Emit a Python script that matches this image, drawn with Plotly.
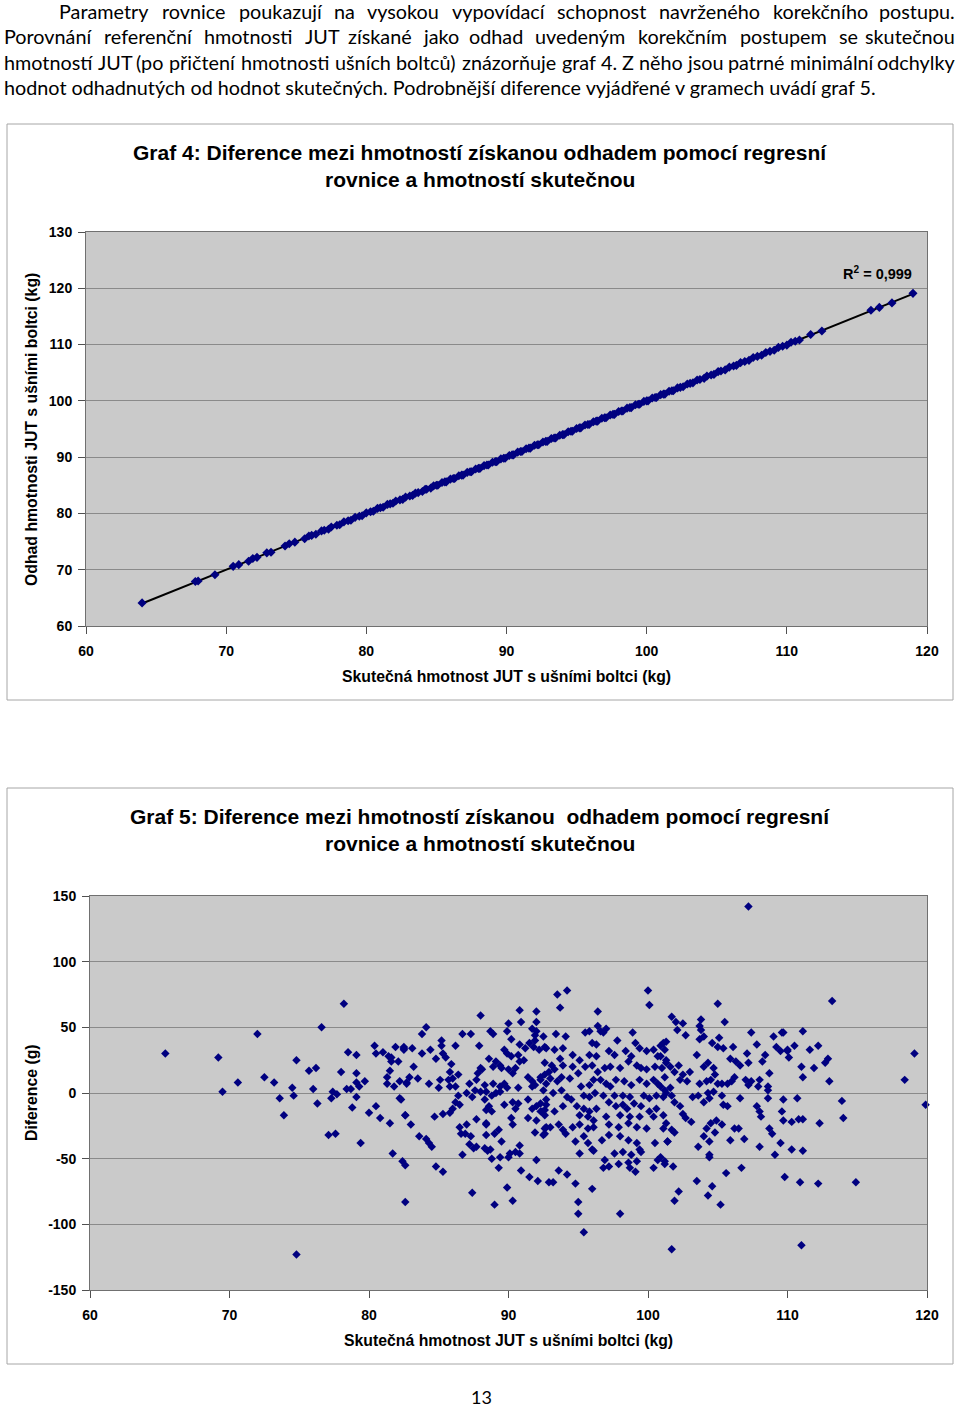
import plotly.graph_objects as go
import numpy as np

# ---------------- DATA ----------------
# Graf 4: (skutečná hmotnost kg, odhad kg)
graf4_points = [
    (64.0, 64.1), (67.8, 67.9), (68.0, 68.0), (69.2, 69.1), (70.5, 70.6), (70.9, 70.9),
    (71.6, 71.5), (71.9, 72.0), (72.2, 72.2), (72.9, 73.0), (73.2, 73.1), (74.2, 74.2),
    (74.5, 74.6), (74.9, 74.9), (75.6, 75.5), (75.9, 76.0), (76.1, 76.1), (76.4, 76.3),
    (76.8, 76.9), (77.0, 77.0), (77.3, 77.2), (77.5, 77.6), (77.9, 77.9), (78.1, 78.0),
    (78.4, 78.5), (78.7, 78.7), (78.9, 78.8), (79.2, 79.3), (79.5, 79.5), (79.7, 79.6),
    (80.0, 80.1), (80.3, 80.3), (80.5, 80.4), (80.8, 80.9), (81.0, 81.0), (81.2, 81.1),
    (81.5, 81.6), (81.7, 81.7), (81.9, 81.8), (82.1, 82.2), (82.4, 82.4), (82.6, 82.5),
    (82.8, 82.9), (83.1, 83.1), (83.3, 83.2), (83.5, 83.6), (83.7, 83.7), (84.0, 83.9),
    (84.2, 84.3), (84.3, 84.3), (84.6, 84.5), (84.8, 84.9), (85.0, 85.0), (85.1, 85.0),
    (85.4, 85.5), (85.6, 85.6), (85.7, 85.6), (86.0, 86.1), (86.2, 86.2), (86.3, 86.2),
    (86.6, 86.7), (86.8, 86.8), (86.9, 86.8), (87.2, 87.3), (87.4, 87.4), (87.5, 87.4),
    (87.8, 87.9), (88.0, 88.0), (88.1, 88.0), (88.4, 88.5), (88.6, 88.6), (88.7, 88.6),
    (89.0, 89.1), (89.2, 89.2), (89.3, 89.2), (89.6, 89.7), (89.8, 89.8), (89.9, 89.8),
    (90.2, 90.3), (90.4, 90.4), (90.5, 90.4), (90.8, 90.9), (91.0, 91.0), (91.1, 91.0),
    (91.4, 91.5), (91.6, 91.6), (91.7, 91.6), (92.0, 92.1), (92.2, 92.2), (92.3, 92.2),
    (92.6, 92.7), (92.8, 92.8), (92.9, 92.8), (93.2, 93.3), (93.4, 93.4), (93.5, 93.4),
    (93.8, 93.9), (94.0, 94.0), (94.1, 94.0), (94.4, 94.5), (94.6, 94.6), (94.7, 94.6),
    (95.0, 95.1), (95.2, 95.2), (95.3, 95.2), (95.6, 95.7), (95.8, 95.8), (95.9, 95.8),
    (96.2, 96.3), (96.4, 96.4), (96.5, 96.4), (96.8, 96.9), (97.0, 97.0), (97.1, 97.0),
    (97.4, 97.5), (97.6, 97.6), (97.7, 97.6), (98.0, 98.1), (98.2, 98.2), (98.3, 98.2),
    (98.6, 98.7), (98.8, 98.8), (98.9, 98.8), (99.2, 99.3), (99.4, 99.4), (99.5, 99.4),
    (99.8, 99.9), (100.0, 100.0), (100.1, 100.0), (100.4, 100.5), (100.6, 100.6),
    (100.7, 100.6), (101.0, 101.1), (101.2, 101.2), (101.3, 101.2), (101.6, 101.7),
    (101.8, 101.8), (101.9, 101.8), (102.2, 102.3), (102.4, 102.4), (102.6, 102.5),
    (102.9, 103.0), (103.1, 103.1), (103.3, 103.2), (103.6, 103.7), (103.8, 103.8),
    (104.1, 104.0), (104.3, 104.4), (104.6, 104.6), (104.8, 104.7), (105.1, 105.2),
    (105.3, 105.3), (105.6, 105.5), (105.9, 106.0), (106.2, 106.2), (106.4, 106.3),
    (106.7, 106.8), (107.0, 107.0), (107.3, 107.2), (107.6, 107.7), (107.9, 107.9),
    (108.2, 108.1), (108.5, 108.6), (108.8, 108.8), (109.1, 109.0), (109.4, 109.5),
    (109.7, 109.7), (110.0, 109.9), (110.3, 110.4), (110.6, 110.6), (110.9, 110.8),
    (111.7, 111.8), (112.5, 112.4), (116.0, 116.1), (116.6, 116.6), (117.5, 117.4),
    (119.0, 119.1),
]
r2_text = "R<sup>2</sup> = 0,999"

# Graf 5: (skutečná hmotnost kg, diference g)
graf5_points = [
    # left, sparse part
    (78.2, 68), (76.6, 50), (72.0, 45), (65.4, 30), (69.2, 27), (74.8, 25), (75.7, 17),
    (76.2, 19), (78.0, 16), (78.5, 31), (79.1, 29), (80.4, 36), (80.5, 30), (81.0, 31),
    (81.4, 28), (81.6, 27), (81.9, 35), (82.5, 35), (82.5, 33), (82.1, 24), (81.6, 24),
    (81.5, 17), (81.3, 12), (81.3, 7), (81.8, 5), (82.2, 9), (82.7, 8), (79.1, 15),
    (79.1, 8), (79.3, 5), (79.7, 9), (70.6, 8), (69.5, 1), (72.5, 12), (73.2, 8),
    (74.5, 4), (73.6, -4), (74.6, -2), (73.9, -17), (76.0, 3), (76.3, -8), (77.4, 1),
    (77.7, -1), (77.3, -4), (78.4, 3), (78.7, 3), (79.1, -3), (78.8, -11), (80.0, -15),
    (80.5, -10), (80.8, -19), (81.5, -23), (82.3, -5), (82.6, -17), (77.1, -32),
    (77.6, -31), (79.4, -38), (81.7, -46), (82.4, -52), (82.6, -55), (82.6, -83),
    (74.8, -123),
    # 82 - 93 kg
    (88.0, 59), (90.8, 63), (92.0, 62), (84.1, 50), (83.8, 45), (86.7, 45), (87.3, 45),
    (88.7, 47), (88.9, 45), (90.0, 53), (89.9, 47), (90.9, 54), (92.0, 54), (91.7, 49),
    (91.9, 44), (92.0, 47), (90.2, 41), (85.2, 40), (85.2, 36), (86.2, 36), (87.9, 36),
    (82.5, 34), (83.1, 34), (83.8, 30), (84.4, 33), (85.3, 30), (85.5, 27), (84.8, 26),
    (85.9, 22), (83.2, 20), (88.6, 26), (89.7, 33), (89.9, 30), (90.2, 28), (90.8, 37),
    (91.2, 34), (91.5, 38), (91.9, 40), (91.8, 35), (92.2, 33), (92.6, 35), (90.7, 29),
    (90.8, 24), (91.1, 25), (89.1, 24), (88.9, 20), (89.4, 21), (89.5, 19), (88.0, 19),
    (87.8, 15), (88.1, 18), (90.0, 18), (90.5, 19), (90.3, 15), (85.8, 16), (86.4, 14),
    (82.9, 12), (83.5, 11), (82.7, 7), (84.3, 7), (85.1, 10), (85.0, 4), (85.7, 10),
    (86.0, 11), (85.8, 5), (86.2, 5), (87.2, 7), (87.7, 10), (88.3, 6), (88.9, 7),
    (89.4, 5), (89.7, 7), (89.9, 4), (89.4, 1), (90.7, 4), (91.4, 12), (91.7, 9),
    (91.9, 6), (91.7, 5), (92.3, 10), (92.6, 14), (92.7, 7), (82.2, -4), (86.4, -2),
    (87.0, 0), (87.4, -3), (87.6, 2), (88.0, 1), (88.4, 1), (88.8, -2), (89.1, 0),
    (86.2, -7), (86.5, -9), (86.0, -12), (88.3, -5), (88.6, -10), (88.4, -13),
    (88.8, -14), (89.7, -9), (90.3, -7), (90.7, -8), (90.5, -12), (91.4, -5),
    (91.7, -12), (92.0, -10), (92.3, -14), (92.6, -13), (92.7, -5), (82.6, -17),
    (83.0, -24), (84.7, -18), (85.3, -16), (85.8, -15), (87.7, -20), (88.4, -23),
    (90.2, -19), (90.3, -24), (91.4, -19), (92.0, -21), (91.9, -30), (92.6, -31),
    (92.7, -26), (86.5, -26), (87.0, -24), (86.6, -31), (87.3, -33), (86.9, -31),
    (88.4, -24), (88.4, -32), (89.0, -31), (89.3, -28), (89.5, -37), (83.6, -33),
    (84.1, -35), (84.3, -38), (84.5, -41), (87.2, -39), (87.5, -42), (87.7, -41),
    (88.3, -42), (88.5, -44), (88.7, -43), (90.8, -40), (90.1, -46), (90.5, -45),
    (90.8, -46), (86.7, -47), (88.8, -50), (89.4, -49), (90.0, -49), (92.0, -51),
    (84.8, -56), (85.3, -60), (89.3, -57), (90.9, -59), (91.5, -64), (92.1, -67),
    (92.9, -68), (87.4, -76), (89.9, -72), (90.3, -82), (89.0, -85),
    # 92 - 101 kg
    (93.5, 75), (94.2, 78), (93.7, 65), (96.4, 62), (100.0, 78), (100.1, 67), (95.5, 46),
    (95.8, 47), (96.4, 51), (96.6, 47), (97.0, 49), (96.8, 46), (98.9, 46), (92.5, 43),
    (93.4, 45), (94.1, 43), (96.0, 38), (96.3, 37), (97.8, 40), (99.1, 38), (100.9, 36),
    (101.3, 39), (92.7, 34), (93.3, 33), (93.9, 34), (94.6, 29), (95.1, 25), (95.8, 29),
    (96.3, 28), (97.2, 32), (97.6, 29), (98.4, 32), (98.8, 28), (99.4, 34), (99.9, 32),
    (100.4, 33), (100.7, 28), (92.6, 23), (93.1, 21), (93.7, 26), (93.9, 21), (92.9, 16),
    (93.3, 18), (94.6, 20), (95.0, 15), (95.5, 20), (96.0, 21), (96.4, 16), (96.9, 19),
    (97.3, 20), (98.0, 19), (98.6, 24), (99.2, 21), (99.5, 19), (99.9, 18), (100.5, 20),
    (101.0, 19), (101.3, 23), (92.3, 12), (93.0, 11), (93.5, 9), (93.8, 12), (94.4, 11),
    (95.2, 5), (95.8, 6), (96.1, 10), (96.6, 10), (97.0, 7), (97.3, 5), (97.7, 10),
    (98.3, 9), (98.8, 6), (99.4, 10), (99.9, 7), (100.4, 10), (100.7, 7), (101.2, 12),
    (92.5, 2), (93.2, 0), (93.8, 2), (94.2, -3), (94.5, -5), (95.4, -2), (95.8, -3),
    (96.2, 0), (96.8, -2), (97.6, -2), (98.2, -2), (98.7, -3), (99.7, -2), (100.1, -4),
    (100.6, -2), (101.3, 0), (92.3, -8), (92.7, -9), (92.4, -14), (92.6, -17), (93.3, -14),
    (93.9, -10), (94.9, -10), (95.4, -12), (95.8, -14), (96.3, -12), (97.2, -7),
    (97.7, -10), (98.2, -9), (98.5, -12), (99.0, -8), (99.5, -10), (100.1, -14),
    (100.6, -12), (95.1, -17), (95.7, -18), (96.1, -21), (97.0, -18), (98.0, -17),
    (98.7, -18), (99.4, -18), (100.4, -18), (101.1, -17), (92.6, -27), (93.0, -26),
    (93.6, -24), (93.9, -28), (94.6, -26), (95.1, -24), (95.7, -27), (96.1, -26),
    (92.5, -32), (94.1, -31), (97.2, -24), (97.9, -26), (98.6, -23), (99.2, -26),
    (99.9, -27), (101.1, -27), (94.8, -37), (95.4, -33), (95.7, -38), (96.0, -43),
    (96.7, -36), (97.2, -32), (98.0, -33), (98.6, -36), (99.2, -38), (99.4, -43),
    (100.5, -38), (101.4, -37), (95.1, -46), (96.1, -44), (97.6, -46), (98.2, -45),
    (98.8, -47), (99.5, -45), (96.9, -51), (96.8, -57), (97.2, -56), (97.9, -54),
    (98.6, -53), (98.7, -57), (99.1, -60), (99.2, -52), (100.4, -57), (100.7, -51),
    (101.2, -54), (93.6, -59), (94.2, -62), (93.2, -68), (94.8, -69), (96.0, -73),
    (95.0, -83), (95.0, -92), (98.0, -92), (95.4, -106),
    # 100 - 110 kg
    (107.2, 142), (105.0, 68), (101.7, 58), (102.0, 54), (102.5, 53), (102.7, 44),
    (102.1, 48), (103.8, 56), (103.7, 51), (103.8, 48), (105.5, 54), (107.4, 46),
    (109.0, 43), (109.6, 46), (110.0, 33), (109.2, 35), (103.7, 41), (104.0, 43),
    (104.6, 38), (105.1, 42), (105.0, 35), (105.4, 34), (106.1, 35), (105.9, 26),
    (106.3, 24), (106.6, 21), (107.2, 23), (107.1, 30), (107.8, 37), (108.4, 29),
    (108.2, 24), (108.7, 15), (101.1, 38), (101.2, 33), (100.9, 28), (101.3, 25),
    (101.6, 20), (101.9, 16), (102.2, 21), (102.5, 14), (103.0, 16), (102.8, 9),
    (102.3, 10), (103.5, 29), (104.0, 20), (104.3, 23), (104.7, 19), (104.8, 14),
    (103.7, 7), (104.2, 9), (104.5, 10), (105.0, 7), (105.3, 7), (105.7, 7), (106.0, 9),
    (106.2, 12), (107.0, 10), (107.4, 9), (107.2, 6), (108.0, 10), (107.9, 5), (108.6, 5),
    (100.9, 5), (101.2, 2), (101.6, 4), (101.1, -3), (101.7, -2), (101.9, -7),
    (102.3, -10), (102.5, -16), (102.7, -19), (103.2, -3), (103.6, -2), (104.0, -7),
    (104.3, 0), (104.4, -4), (104.7, 1), (105.3, -2), (105.4, -9), (105.7, -10),
    (106.6, -4), (107.8, -10), (108.0, -14), (108.1, -18), (108.6, 2), (108.6, -4),
    (109.7, -5), (109.6, -14), (109.7, -21), (110.3, -22), (101.3, -23), (101.9, -30),
    (101.7, -28), (101.4, -37), (103.1, -22), (104.2, -27), (104.5, -23), (104.9, -21),
    (105.3, -24), (104.8, -30), (104.0, -33), (104.4, -37), (103.6, -41), (104.4, -47),
    (106.2, -27), (106.5, -27), (105.9, -36), (106.9, -35), (108.0, -41), (108.7, -27),
    (108.9, -31), (109.5, -38), (109.1, -47), (100.9, -49), (101.2, -52), (101.8, -56),
    (104.4, -49), (105.6, -61), (106.7, -57), (103.5, -67), (104.6, -71), (104.3, -78),
    (105.2, -85), (102.2, -75), (101.9, -82), (109.8, -64), (101.7, -119),
    # right, sparse part
    (113.2, 70), (109.7, 46), (111.1, 47), (109.5, 32), (110.0, 32), (110.5, 36),
    (110.1, 27), (111.6, 33), (112.2, 36), (111.0, 20), (111.9, 19), (111.1, 12),
    (112.7, 23), (112.9, 26), (113.0, 9), (119.1, 30), (118.4, 10), (119.9, -9),
    (110.7, -4), (113.9, -6), (110.8, -20), (111.1, -20), (112.3, -23), (114.0, -19),
    (110.3, -43), (111.1, -44), (110.9, -68), (112.2, -69), (114.9, -68), (111.0, -116),
]

x_ticks = [60, 70, 80, 90, 100, 110, 120]
y4_ticks = [60, 70, 80, 90, 100, 110, 120, 130]
y5_ticks = [-150, -100, -50, 0, 50, 100, 150]
y5_ticktext = ["-150", "-100", "-50", "0", "50", "100", "150"]

title4 = ["Graf 4: Diference mezi hmotností získanou odhadem pomocí regresní",
          "rovnice a hmotností skutečnou"]
title5 = ["Graf 5: Diference mezi hmotností získanou  odhadem pomocí regresní",
          "rovnice a hmotností skutečnou"]
xtitle = "Skutečná hmotnost JUT s ušními boltci (kg)"
ytitle4 = "Odhad hmotnosti JUT s ušními boltci (kg)"
ytitle5 = "Diference (g)"

paragraph_lines = [
    "Parametry rovnice poukazují na vysokou vypovídací schopnost navrženého korekčního postupu.",
    "Porovnání referenční hmotnosti JUT získané jako odhad uvedeným korekčním postupem se skutečnou",
    "hmotností JUT (po přičtení hmotnosti ušních boltců) znázorňuje graf 4. Z něho jsou patrné minimální odchylky",
    "hodnot odhadnutých od hodnot skutečných. Podrobnější diference vyjádřené v gramech uvádí graf 5.",
]
page_number = "13"

# ---------------- LAYOUT ----------------
W, H = 960, 1408
def PX(px):
    return px / W
def PY(py):
    return 1 - py / H

# paragraph layout: (left edge, right edge or None for a last line, centre y)
para_layout = [(57, 957, 11), (2, 957, 36.5), (2, 957, 62), (2, None, 87.5)]
BODY_SIZE = 19.8

# approximate Lato advance widths (em) used to justify the paragraph lines
_w = dict(a=.49, b=.56, c=.46, d=.56, e=.52, f=.33, g=.50, h=.56, i=.24, j=.24, k=.50,
          l=.24, m=.84, n=.56, o=.56, p=.56, q=.56, r=.37, s=.42, t=.36, u=.56, v=.51,
          w=.78, x=.50, y=.51, z=.45)
_acc = {"á": "a", "é": "e", "ě": "e", "í": "i", "ý": "y", "ú": "u", "ů": "u", "č": "c",
        "ř": "r", "ž": "z", "š": "s", "ň": "n"}
_caps = {"P": .60, "Z": .62, "J": .38, "U": .70, "T": .57}
def word_width(wd, size):
    tot = 0.0
    for ch in wd:
        if ch in _caps:
            tot += _caps[ch]
        elif ch.isdigit():
            tot += .58
        elif ch in ".,":
            tot += .23
        elif ch in "()":
            tot += .30
        else:
            tot += _w.get(_acc.get(ch, ch), .52)
    return tot * size * 1.02

x4 = [p[0] for p in graf4_points]
y4 = [p[1] for p in graf4_points]
x5 = [p[0] for p in graf5_points]
y5 = [p[1] for p in graf5_points]

slope, intercept = np.polyfit(x4, y4, 1)
trend_x = [min(x4), max(x4)]
trend_y = [slope * v + intercept for v in trend_x]

NAVY = "#000080"
GRID = "#8a8a8a"
SANS = "Liberation Sans, Arial, sans-serif"
BOLD = dict(family=SANS, size=14, color="black", weight="bold")
BODY = dict(family="Lato, Carlito, sans-serif", size=BODY_SIZE, color="black")

fig = go.Figure()
fig.add_trace(go.Scatter(x=trend_x, y=trend_y, mode="lines", line=dict(color="black", width=2),
                         xaxis="x", yaxis="y", showlegend=False, hoverinfo="skip"))
fig.add_trace(go.Scatter(x=x4, y=y4, mode="markers",
                         marker=dict(symbol="diamond", size=7, color=NAVY, line=dict(width=0)),
                         xaxis="x", yaxis="y", showlegend=False, cliponaxis=False))
fig.add_trace(go.Scatter(x=x5, y=y5, mode="markers",
                         marker=dict(symbol="diamond", size=6.5, color=NAVY, line=dict(width=0)),
                         xaxis="x2", yaxis="y2", showlegend=False, cliponaxis=False))

axis_common = dict(showline=True, linecolor="#707070", linewidth=1, mirror=True,
                   ticks="outside", ticklen=7, tickcolor="#505050", tickfont=BOLD,
                   zeroline=False, fixedrange=True)

fig.update_layout(
    width=W, height=H, margin=dict(l=0, r=0, t=0, b=0, autoexpand=False),
    paper_bgcolor="white", plot_bgcolor="#cacaca",
    xaxis=dict(domain=[PX(86), PX(927)], range=[60, 120], tickvals=x_ticks, anchor="y",
               showgrid=False, ticklabelstandoff=5, **axis_common),
    yaxis=dict(domain=[PY(626), PY(232)], range=[60, 130], tickvals=y4_ticks, anchor="x",
               showgrid=True, gridcolor=GRID, gridwidth=1, ticklabelstandoff=3, **axis_common),
    xaxis2=dict(domain=[PX(90), PX(927)], range=[60, 120], tickvals=x_ticks, anchor="y2",
                showgrid=False, ticklabelstandoff=5, **axis_common),
    yaxis2=dict(domain=[PY(1290), PY(896)], range=[-150, 150], tickvals=y5_ticks,
                ticktext=y5_ticktext, anchor="x2",
                showgrid=True, gridcolor=GRID, gridwidth=1, ticklabelstandoff=3, **axis_common),
)

shapes = []
for (x0, y0, x1, y1) in [(7, 124, 953, 700), (7, 788, 953, 1364)]:
    shapes.append(dict(type="rect", xref="paper", yref="paper",
                       x0=PX(x0), x1=PX(x1), y0=PY(y1), y1=PY(y0),
                       line=dict(color="#a6a6a6", width=1), fillcolor="rgba(0,0,0,0)"))
fig.update_layout(shapes=shapes)

ann = []
def text(t, x, y, font, xanchor="center", yanchor="middle", angle=0):
    ann.append(dict(text=t, x=PX(x), y=PY(y), xref="paper", yref="paper", showarrow=False,
                    font=font, xanchor=xanchor, yanchor=yanchor, textangle=angle))

for line, (left, right, yc) in zip(paragraph_lines, para_layout):
    if right is None:
        text(line, left, yc, BODY, xanchor="left")
        continue
    words = line.split(" ")
    widths = [word_width(wd, BODY_SIZE) for wd in words]
    gap = (right - left - sum(widths)) / (len(words) - 1)
    pos = left
    for i, (wd, wdt) in enumerate(zip(words, widths)):
        if i == len(words) - 1:
            text(wd, right, yc, BODY, xanchor="right")
        else:
            text(wd, pos, yc, BODY, xanchor="left")
        pos += wdt + gap

TITLE = dict(family=SANS, size=21, color="black", weight="bold")
text(title4[0], 480, 153, TITLE)
text(title4[1], 480, 179, TITLE)
text(title5[0], 480, 817, TITLE)
text(title5[1], 480, 843, TITLE)

AX = dict(family=SANS, size=15.8, color="black", weight="bold")
text(xtitle, 506, 676, AX)
text(xtitle, 508, 1340, AX)
text(ytitle4, 31, 430, AX, angle=-90)
text(ytitle5, 31, 1093, AX, angle=-90)
text(r2_text, 877, 273, dict(AX, size=14.5))
text(page_number, 481, 1397, dict(family="Lato, sans-serif", size=18, color="black"))

fig.update_layout(annotations=ann)
fig.write_html("out.html", config={"displayModeBar": False},
               post_script="document.body.style.margin='0';document.body.style.overflow='hidden';")
